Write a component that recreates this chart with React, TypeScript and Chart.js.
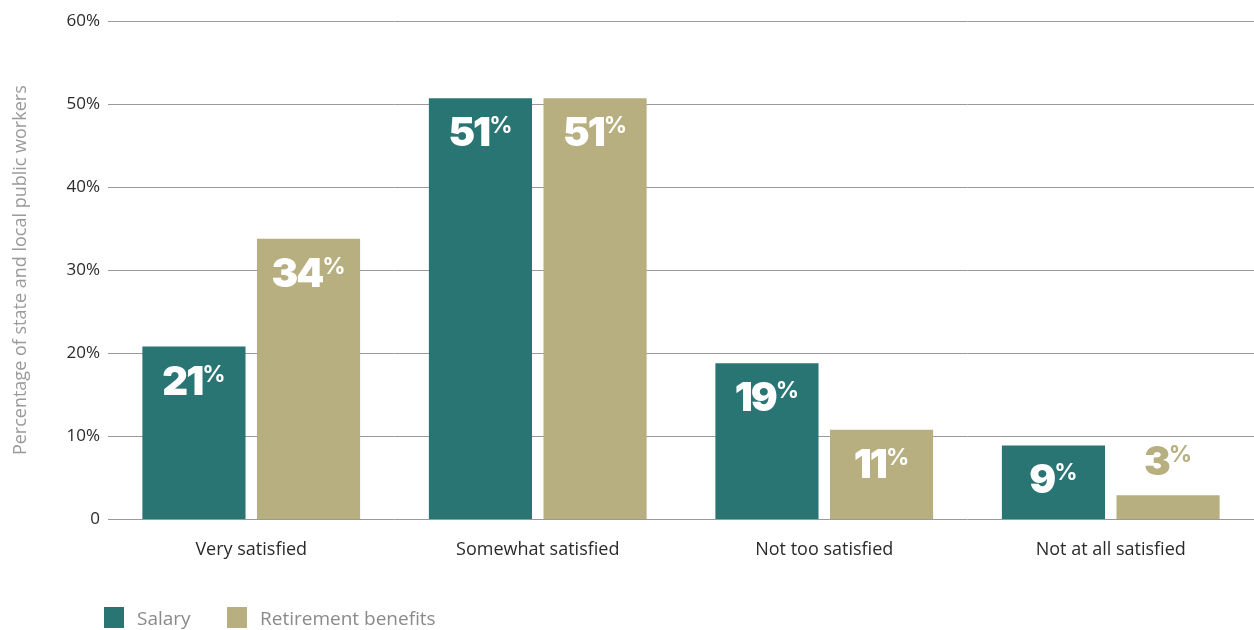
import React, { useEffect, useRef } from "react";
import { Chart, registerables } from "chart.js";

Chart.register(...registerables);

const categories = ["Very satisfied", "Somewhat satisfied", "Not too satisfied", "Not at all satisfied"];
const salary = [20.8, 50.7, 18.8, 8.9];
const retirement = [33.8, 50.7, 10.8, 2.9];
const seriesNames = ["Salary", "Retirement benefits"];
const yTicks = [0, 10, 20, 30, 40, 50, 60];
const yTitle = "Percentage of state and local public workers";

const TEAL = "#297574";
const TAN = "#b8af80";

const valueLabels = {
  id: "valueLabels",
  afterDatasetsDraw(chart: any) {
    const ctx = chart.ctx;
    ctx.save();
    chart.data.datasets.forEach((ds: any, di: number) => {
      const meta = chart.getDatasetMeta(di);
      meta.data.forEach((bar: any, i: number) => {
        const v = ds.data[i];
        const inside = v >= 5;
        const cy = inside ? bar.y + 34 : bar.y - 34;
        const color = inside ? "#ffffff" : ds.backgroundColor;
        const num = String(Math.round(v));
        ctx.textBaseline = "alphabetic";
        ctx.font = "900 40px Inter";
        (ctx as any).letterSpacing = "-2px";
        const wNum = ctx.measureText(num).width;
        ctx.font = "700 23px Inter";
        (ctx as any).letterSpacing = "0px";
        const wPct = ctx.measureText("%").width;
        const total = wNum + wPct;
        const x0 = bar.x - total / 2;
        const base = cy + 14;
        ctx.fillStyle = color;
        ctx.font = "900 40px Inter";
        (ctx as any).letterSpacing = "-2px";
        ctx.textAlign = "left";
        ctx.fillText(num, x0, base);
        ctx.font = "700 23px Inter";
        (ctx as any).letterSpacing = "0px";
        ctx.fillText("%", x0 + wNum, base - 13);
      });
    });
    ctx.restore();
  },
};

const customLegend = {
  id: "customLegend",
  afterDraw(chart: any) {
    const ctx = chart.ctx;
    ctx.save();
    const colors = [TEAL, TAN];
    const xs = [104, 227];
    ctx.font = "19px 'Open Sans'";
    ctx.textBaseline = "middle";
    ctx.textAlign = "left";
    seriesNames.forEach((name, i) => {
      ctx.fillStyle = colors[i];
      ctx.fillRect(xs[i], 607, 20, 21);
      ctx.fillStyle = "#8a8a8a";
      ctx.fillText(name, xs[i] + 33, 620);
    });
    ctx.restore();
  },
};

export default function App() {
  const ref = useRef<HTMLCanvasElement>(null);
  useEffect(() => {
    document.body.style.margin = "0";
    const chart = new Chart(ref.current!, {
      type: "bar",
      data: {
        labels: categories,
        datasets: [
          { label: seriesNames[0], data: salary, backgroundColor: TEAL, categoryPercentage: 0.8, barPercentage: 0.9 },
          { label: seriesNames[1], data: retirement, backgroundColor: TAN, categoryPercentage: 0.8, barPercentage: 0.9 },
        ],
      },
      options: {
        animation: false,
        responsive: false,
        maintainAspectRatio: false,
        layout: { padding: { top: 21, right: 0, bottom: 57, left: 0 } },
        plugins: { legend: { display: false }, tooltip: { enabled: false } },
        scales: {
          x: {
            grid: { display: false },
            border: { display: false },
            ticks: { color: "#2b2b2b", font: { family: "'Open Sans'", size: 18 }, padding: 12 },
          },
          y: {
            min: 0,
            max: 60,
            afterBuildTicks(scale: any) {
              scale.ticks = yTicks.map((v) => ({ value: v }));
            },
            afterFit(scale: any) {
              scale.width = 108;
            },
            grid: { color: "#9a9a9a", lineWidth: 1, drawTicks: false },
            border: { display: false },
            ticks: {
              color: "#2b2b2b",
              font: { family: "'Open Sans'", size: 17 },
              padding: 8,
              callback: (v: any) => (v === 0 ? "0" : v + "%"),
            },
            title: {
              display: true,
              text: yTitle,
              color: "#9a9a9a",
              font: { family: "'Open Sans'", size: 18 },
              padding: { top: 10, bottom: 0 },
            },
          },
        },
      },
      plugins: [valueLabels, customLegend],
    });
    return () => chart.destroy();
  }, []);
  return (
    <div style={{ width: 1254, height: 630 }}>
      <canvas ref={ref} width={1254} height={630} style={{ display: "block" }} />
    </div>
  );
}
